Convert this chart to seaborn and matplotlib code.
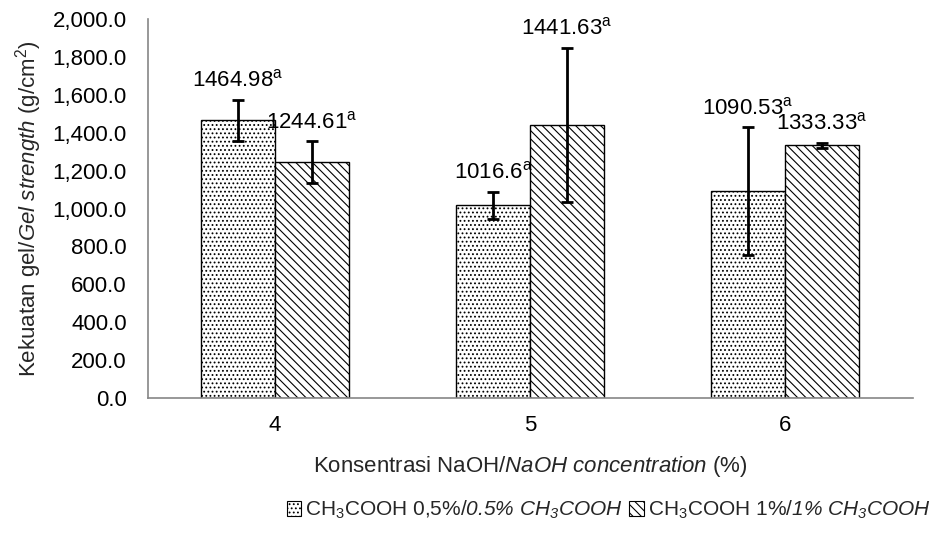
import matplotlib
matplotlib.use("Agg")
import matplotlib.pyplot as plt
import matplotlib.ticker as mticker
from matplotlib.patches import Patch
import seaborn as sns
import pandas as pd

# ---- data ----
categories = ["4", "5", "6"]
series_names = [r"CH$_{\mathsf{3}}$COOH 0,5%/$0.5\%\ CH_{3}COOH$",
                r"CH$_{\mathsf{3}}$COOH 1%/$1\%\ CH_{3}COOH$"]
values_05 = [1464.98, 1016.6, 1090.53]
values_1 = [1244.61, 1441.63, 1333.33]
err_05 = [108, 70, 337]
err_1 = [110, 407, 12]
labels_05 = ["1464.98", "1016.6", "1090.53"]
labels_1 = ["1244.61", "1441.63", "1333.33"]
letters_05 = ["a", "a", "a"]
letters_1 = ["a", "a", "a"]

sns.set_theme(style="white")
plt.rcParams['font.family'] = ['Liberation Sans', 'DejaVu Sans']
plt.rcParams['mathtext.fontset'] = 'custom'
plt.rcParams['mathtext.rm'] = 'Liberation Sans:italic'
plt.rcParams['mathtext.it'] = 'Liberation Sans:italic'
plt.rcParams['mathtext.sf'] = 'Liberation Sans'
plt.rcParams['mathtext.bf'] = 'Liberation Sans:bold'
plt.rcParams['hatch.linewidth'] = 0.8

FS = 16
gray = "#868686"

df = pd.DataFrame({
    "cat": categories * 2,
    "val": values_05 + values_1,
    "series": ["s05"] * 3 + ["s1"] * 3,
})

fig = plt.figure(figsize=(9.33, 5.33), dpi=100)
ax = fig.add_axes([147.5 / 933, 1 - 398 / 533, (912.5 - 147.5) / 933, (398 - 19) / 533])

sns.barplot(data=df, x="cat", y="val", hue="series", order=categories,
            hue_order=["s05", "s1"], palette=["white", "white"],
            edgecolor="black", linewidth=1.0, width=0.58, errorbar=None,
            ax=ax, legend=False, saturation=1)

hatches = ['....', '\\\\\\\\']
all_vals = [values_05, values_1]
all_errs = [err_05, err_1]
all_labels = [labels_05, labels_1]
all_letters = [letters_05, letters_1]
for s in range(2):
    for i in range(3):
        p = ax.patches[s * 3 + i]
        p.set_hatch(hatches[s])
        p.set_edgecolor("black")
        p.set_facecolor("white")
        xc = p.get_x() + p.get_width() / 2
        v = all_vals[s][i]
        e = all_errs[s][i]
        ax.errorbar(xc, v, yerr=e, fmt='none', ecolor='black', elinewidth=2,
                    capsize=4.5, capthick=2, zorder=5)
        ax.annotate(all_labels[s][i] + r"$^{\mathsf{" + all_letters[s][i] + "}}$",
                    xy=(xc, v + e), xytext=(0, 6), textcoords="offset points",
                    ha="center", va="bottom", fontsize=FS, color="black")

ax.set_xlim(-0.5, 2.5)
ax.set_ylim(0, 2000)
ax.yaxis.set_major_locator(mticker.MultipleLocator(200))
ax.yaxis.set_major_formatter(mticker.FuncFormatter(lambda v, p: f"{v:,.1f}"))

for sp in ["top", "right"]:
    ax.spines[sp].set_visible(False)
for sp in ["left", "bottom"]:
    ax.spines[sp].set_color(gray)
    ax.spines[sp].set_linewidth(1.2)

ax.tick_params(axis="both", which="both", direction="out",
               color=gray, width=1.2, labelsize=FS, labelcolor="black")
ax.tick_params(axis="y", length=7, pad=8)
ax.tick_params(axis="x", length=5, pad=7)
ax.set_xticks(range(3))
ax.set_xticklabels(categories)

ax.set_ylabel(r"Kekuatan gel/$Gel\ strength$ (g/cm$^{\mathsf{2}}$)", fontsize=FS, labelpad=6)
ax.set_xlabel(r"Konsentrasi NaOH/$NaOH\ concentration$ (%)", fontsize=FS, labelpad=13)

handles = [Patch(facecolor="white", edgecolor="black", hatch=hatches[0], linewidth=0.8),
           Patch(facecolor="white", edgecolor="black", hatch=hatches[1], linewidth=0.8)]
fig.legend(handles, series_names, loc="center right", bbox_to_anchor=(931 / 933, 1 - 510 / 533),
           ncol=2, frameon=False, fontsize=15, handlelength=0.7, handleheight=0.7,
           handletextpad=0.2, columnspacing=0.3, borderpad=0.0, borderaxespad=0.0)

fig.savefig("out.png", dpi=100)
